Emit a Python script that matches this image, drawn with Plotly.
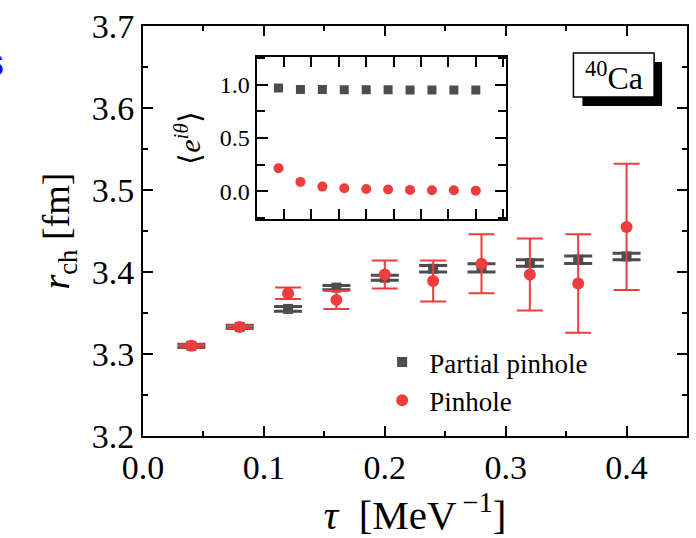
import plotly.graph_objects as go

# ---------------- data ----------------
tau = [0.04, 0.08, 0.12, 0.16, 0.20, 0.24, 0.28, 0.32, 0.36, 0.40]

partial_r = [3.310, 3.333, 3.355, 3.381, 3.393, 3.404, 3.405, 3.411, 3.415, 3.419]
partial_err = [0.002, 0.002, 0.003, 0.0025, 0.003, 0.004, 0.005, 0.004, 0.0045, 0.004]

pinhole_r = [3.310, 3.333, 3.374, 3.366, 3.397, 3.389, 3.410, 3.397, 3.386, 3.455]
pinhole_err = [0.002, 0.002, 0.007, 0.011, 0.017, 0.025, 0.036, 0.044, 0.060, 0.077]

partial_phase = [0.970, 0.955, 0.955, 0.953, 0.952, 0.952, 0.951, 0.951, 0.950, 0.950]
pinhole_phase = [0.217, 0.088, 0.044, 0.028, 0.022, 0.016, 0.013, 0.010, 0.010, 0.006]

x_ticks = [0.0, 0.1, 0.2, 0.3, 0.4]
y_ticks = [3.2, 3.3, 3.4, 3.5, 3.6, 3.7]
inset_y_ticks = [0.0, 0.5, 1.0]

GRAY = "#4d4d4d"
RED = "#ee3c3f"
FONT = "Liberation Serif"

W, H = 696, 538
ML, MR, MT, MB = 143, 7, 26, 102
PW = W - ML - MR
PH = H - MT - MB


def px_x(px):
    return (px - ML) / PW


def px_y(py):
    return (H - MB - py) / PH


fig = go.Figure()

# main panel
fig.add_trace(go.Scatter(
    x=tau, y=partial_r, mode="markers", name="Partial pinhole",
    marker=dict(symbol="square", size=10, color=GRAY),
    error_y=dict(type="data", array=partial_err, visible=True, color=GRAY,
                 thickness=3, width=14),
    xaxis="x", yaxis="y",
))
fig.add_trace(go.Scatter(
    x=tau, y=pinhole_r, mode="markers", name="Pinhole",
    marker=dict(symbol="circle", size=12, color=RED),
    error_y=dict(type="data", array=pinhole_err, visible=True, color=RED,
                 thickness=2, width=13),
    xaxis="x", yaxis="y",
))

# inset
fig.add_trace(go.Scatter(
    x=tau, y=partial_phase, mode="markers", showlegend=False,
    marker=dict(symbol="square", size=9, color=GRAY),
    xaxis="x2", yaxis="y2",
))
fig.add_trace(go.Scatter(
    x=tau, y=pinhole_phase, mode="markers", showlegend=False,
    marker=dict(symbol="circle", size=10, color=RED),
    xaxis="x2", yaxis="y2",
))

axis_common = dict(
    showline=True, linewidth=2, linecolor="black", mirror="allticks",
    ticks="inside", tickwidth=2, tickcolor="black",
    showgrid=False, zeroline=False,
)

fig.update_layout(
    width=W, height=H,
    margin=dict(l=ML, r=MR, t=MT, b=MB),
    paper_bgcolor="white", plot_bgcolor="white",
    font=dict(family=FONT, color="black"),
    xaxis=dict(
        **axis_common, range=[0, 0.45], tickvals=x_ticks, ticklen=10,
        tickformat=".1f", tickfont=dict(size=34),
        minor=dict(ticks="inside", ticklen=5, tickwidth=2, dtick=0.05, tick0=0, tickcolor="black"),
        title=dict(text="<i>τ</i>\u00a0\u00a0[MeV<sup>\u2009−1</sup>]", font=dict(size=41), standoff=8),
        domain=[0, 1],
    ),
    yaxis=dict(
        **axis_common, range=[3.2, 3.7], tickvals=y_ticks, ticklen=10,
        tickformat=".1f", tickfont=dict(size=34),
        minor=dict(ticks="inside", ticklen=5, tickwidth=2, dtick=0.05, tick0=3.2, tickcolor="black"),
        title=dict(text="<i>r</i><sub>ch</sub>\u00a0[fm]", font=dict(size=38), standoff=10),
        domain=[0, 1],
    ),
    xaxis2=dict(
        **axis_common, range=[0, 0.4545], dtick=0.05, tick0=0, ticklen=10,
        showticklabels=False, anchor="y2",
        domain=[px_x(257), px_x(507)],
    ),
    yaxis2=dict(
        **axis_common, range=[-0.26, 1.26], tickvals=inset_y_ticks, ticklen=11,
        tickformat=".1f", tickfont=dict(size=24),
        minor=dict(ticks="inside", ticklen=8, tickwidth=2, dtick=0.25, tick0=0, tickcolor="black"),
        title=dict(text="⟨<i>e</i><sup><i>iθ</i></sup>⟩", font=dict(size=30), standoff=10),
        anchor="x2",
        domain=[px_y(219), px_y(57)],
    ),
    legend=dict(
        x=px_x(376), y=px_y(338), xanchor="left", yanchor="top",
        font=dict(size=27, family=FONT), bgcolor="rgba(0,0,0,0)",
        itemwidth=44, tracegroupgap=0,
    ),
    showlegend=True,
)

# dotted zero line in inset
fig.add_shape(type="line", xref="x2 domain", yref="y2", x0=0, x1=1, y0=0, y1=0,
              line=dict(color="black", width=1.5, dash="dot"), layer="below")

# 40Ca label box with shadow
fig.add_shape(type="rect", xref="paper", yref="paper",
              x0=px_x(584), x1=px_x(664), y0=px_y(106), y1=px_y(62),
              fillcolor="black", line=dict(width=0))
fig.add_shape(type="rect", xref="paper", yref="paper",
              x0=px_x(575), x1=px_x(656), y0=px_y(97), y1=px_y(53),
              fillcolor="white", line=dict(color="black", width=1.5))
fig.add_annotation(x=px_x(615.5), y=px_y(76), xref="paper", yref="paper",
                   text="<sup>40</sup>Ca", showarrow=False,
                   font=dict(size=32, family=FONT, color="black"),
                   xanchor="center", yanchor="middle")

# clipped blue panel mark at the far left
fig.add_annotation(x=px_x(5), y=px_y(62), xref="paper", yref="paper",
                   text="<b>s</b>", showarrow=False,
                   font=dict(size=40, family="Liberation Sans", color="#1010ee"),
                   xanchor="right", yanchor="middle")

fig.write_html("out.html", config={"displayModeBar": False},
               post_script="document.body.style.margin='0';document.body.style.padding='0';")
